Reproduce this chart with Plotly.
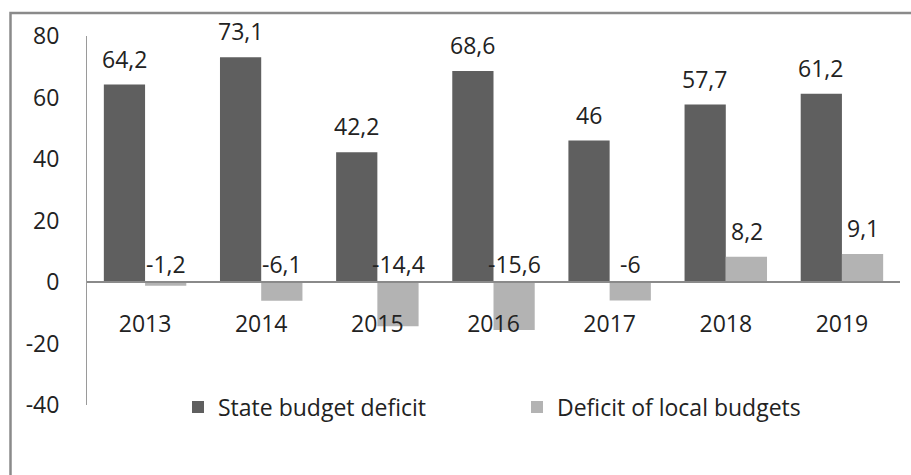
import plotly.graph_objects as go

years = ["2013", "2014", "2015", "2016", "2017", "2018", "2019"]
state_deficit = [64.2, 73.1, 42.2, 68.6, 46.0, 57.7, 61.2]
local_deficit = [-1.2, -6.1, -14.4, -15.6, -6.0, 8.2, 9.1]
state_labels = ["64,2", "73,1", "42,2", "68,6", "46", "57,7", "61,2"]
local_labels = ["-1,2", "-6,1", "-14,4", "-15,6", "-6", "8,2", "9,1"]
y_ticks = [-40, -20, 0, 20, 40, 60, 80]

FONT = "Open Sans"
FS = 23
TXT = "#222222"
DARK = "#5f5f5f"
LIGHT = "#b3b3b3"

fig = go.Figure()
fig.add_trace(go.Bar(x=years, y=state_deficit, name="State budget deficit",
                     marker=dict(color=DARK, line=dict(width=0))))
fig.add_trace(go.Bar(x=years, y=local_deficit, name="Deficit of local budgets",
                     marker=dict(color=LIGHT, line=dict(width=0))))

annotations = []
for series, labels, xs in ((state_deficit, state_labels, -21), (local_deficit, local_labels, 21)):
    for i, (v, lab) in enumerate(zip(series, labels)):
        annotations.append(dict(x=i, y=max(v, 0), xref="x", yref="y", text=lab,
                                showarrow=False, xshift=xs, yshift=26 if v > 0 else 18,
                                yanchor="middle", font=dict(family=FONT, size=FS, color=TXT)))

L, R, T, B = 87, 11, 36, 70
W, H = 911, 475
pw, ph = W - L - R, H - T - B
def px(x):
    return (x - L) / pw
def py(y):
    return (H - B - y) / ph

shapes = [dict(type="path", xref="paper", yref="paper",
               path=f"M {px(10.5)} {py(480)} L {px(10.5)} {py(13)} L {px(913)} {py(13)}",
               line=dict(color="#8a8a8a", width=2.5))]

fig.update_layout(
    width=W, height=H,
    margin=dict(l=L, r=R, t=T, b=B, pad=0),
    paper_bgcolor="white", plot_bgcolor="white",
    barmode="group", bargap=0.29, bargroupgap=0.0,
    font=dict(family=FONT, size=FS, color=TXT),
    showlegend=True,
    legend=dict(orientation="h", x=px(178), y=py(407), xanchor="left", yanchor="middle",
                font=dict(family=FONT, size=FS, color=TXT),
                entrywidth=294, entrywidthmode="pixels", itemwidth=30,
                bgcolor="rgba(0,0,0,0)"),
    annotations=annotations,
    shapes=shapes,
    xaxis=dict(type="category", range=[-0.5, len(years) - 0.5], anchor="free", position=40 / 120,
               showline=True, linecolor="#8a8a8a", linewidth=2,
               ticks="", ticklabelstandoff=21, showgrid=False, zeroline=False,
               tickfont=dict(family=FONT, size=FS, color=TXT)),
    yaxis=dict(range=[-40, 80], tickvals=y_ticks, ticktext=[str(v) for v in y_ticks],
               showline=True, linecolor="#9a9a9a", linewidth=1, showgrid=False,
               zeroline=False, ticks="", ticklabelstandoff=22,
               tickfont=dict(family=FONT, size=FS, color=TXT)),
)

fig.write_html("out.html")
